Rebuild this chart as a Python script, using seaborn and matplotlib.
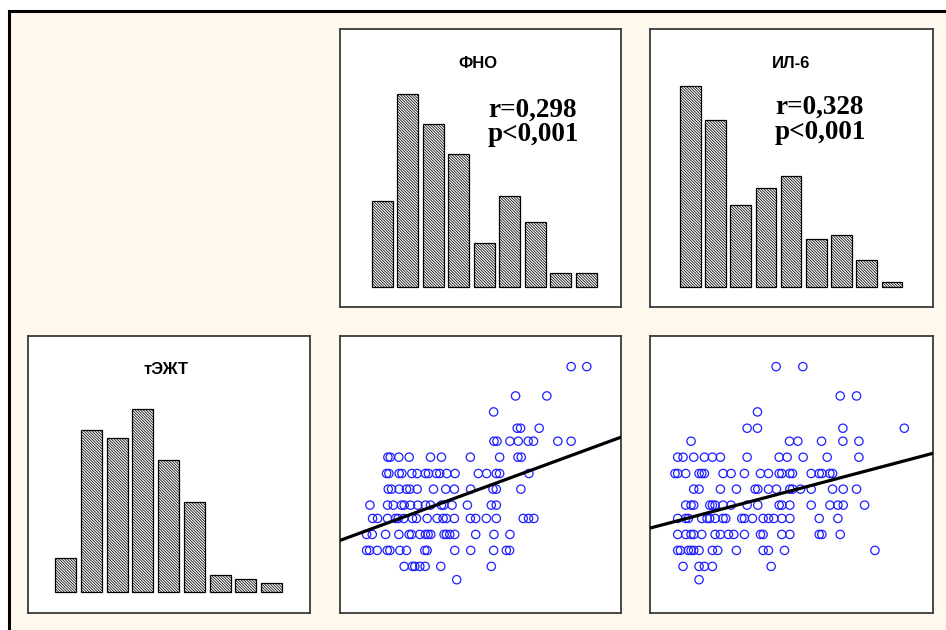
import matplotlib
matplotlib.use("Agg")
import matplotlib.pyplot as plt
from matplotlib.patches import Rectangle
import numpy as np
import pandas as pd
import seaborn as sns

sns.set_theme(style="white")
plt.rcParams["font.family"] = ["Liberation Sans", "DejaVu Sans"]
plt.rcParams["hatch.linewidth"] = 0.55

# ---- histogram frequencies (9 bins each) ----
fno_freq = [86.0, 192.7, 162.3, 132.7, 43.3, 90.3, 64.7, 13.3, 13.3]
il6_freq = [200.7, 167.0, 81.7, 98.4, 110.7, 47.4, 51.7, 26.7, 5.0]
tezt_freq = [34.6, 162.3, 154.0, 183.3, 132.3, 90.0, 17.3, 13.3, 9.0]

# ---- тЭЖТ levels (rows of the scatter plots) ----
tezt_levels = [69.0, 60.2, 55.4, 50.5, 46.6, 41.8, 36.9, 32.2, 27.4, 23.4, 18.6, 13.8, 9.0, 5.0]

# ФНО values observed at each тЭЖТ level
fno_rows = [
    [69.5, 74.2],
    [52.8, 62.2],
    [46.2],
    [53.3, 54.3, 59.9],
    [46.3, 47.2, 51.1, 53.6, 56.6, 58.2, 65.5, 69.5],
    [14.4, 15.1, 17.7, 20.8, 27.2, 30.5, 39.2, 48.0, 53.5, 54.5],
    [14.0, 14.7, 17.8, 18.6, 21.6, 23.2, 25.7, 26.6, 29.0, 30.0, 32.1, 34.6,
     41.6, 44.1, 47.0, 48.0, 56.8],
    [14.5, 15.5, 17.8, 20.0, 21.0, 23.2, 28.1, 31.8, 34.4, 39.3, 46.0, 47.0, 54.4],
    [9.0, 14.3, 16.0, 18.5, 19.3, 21.2, 23.4, 25.7, 27.2, 30.5, 31.2, 33.7,
     38.3, 45.5, 47.0],
    [9.8, 11.3, 14.3, 16.7, 17.5, 19.2, 21.8, 23.0, 26.2, 29.2, 31.0, 32.0,
     34.4, 39.2, 40.8, 44.0, 47.0, 55.1, 56.7, 58.3],
    [8.0, 9.7, 13.7, 17.7, 20.8, 21.5, 24.0, 25.7, 26.5, 27.3, 31.3, 32.0,
     33.0, 34.5, 40.8, 46.3, 51.1],
    [8.0, 8.9, 11.2, 14.2, 15.0, 18.0, 20.0, 25.5, 26.2, 34.5, 39.3, 46.2, 50.0, 51.0],
    [19.3, 21.8, 22.5, 24.0, 25.6, 30.3, 45.5],
    [35.1],
]

# ИЛ-6 values observed at each тЭЖТ level
il6_rows = [
    [37.8, 45.8],
    [57.0, 61.9],
    [32.2],
    [29.1, 32.2, 57.8, 76.2],
    [12.3, 41.8, 44.3, 51.4, 57.8, 62.6],
    [8.3, 9.9, 13.1, 16.3, 18.7, 21.1, 29.1, 38.7, 41.1, 45.9, 53.1, 62.6],
    [7.5, 8.3, 10.7, 14.7, 15.5, 16.3, 21.9, 24.3, 28.3, 33.1, 35.5, 38.7,
     39.5, 41.9, 42.7, 48.3, 50.7, 51.5, 53.9, 54.7],
    [13.1, 14.7, 21.1, 25.9, 31.5, 32.3, 35.5, 37.9, 41.9, 42.7, 45.1, 48.3,
     54.7, 57.9, 61.9],
    [10.7, 12.3, 13.1, 17.9, 18.7, 19.5, 21.9, 24.3, 29.1, 32.3, 38.7, 39.5,
     41.9, 48.3, 53.9, 56.3, 57.9, 64.3],
    [8.3, 10.7, 11.5, 15.5, 17.1, 17.9, 19.5, 21.9, 22.7, 27.5, 28.3, 30.7,
     33.9, 35.5, 37.1, 39.5, 41.9, 50.7, 56.3],
    [8.3, 10.7, 12.3, 13.1, 15.5, 19.5, 21.1, 23.5, 25.1, 28.3, 33.1, 33.9,
     39.5, 41.9, 50.7, 51.5, 57.0],
    [8.3, 9.1, 11.5, 12.3, 13.1, 14.7, 18.7, 20.3, 25.9, 33.9, 35.5, 40.3, 67.4],
    [9.9, 14.7, 16.3, 18.7, 36.3],
    [14.7],
]

# regression lines: (intercept, slope)
fno_fit = (16.8, 0.367)
il6_fit = (20.5, 0.265)

fno_stats = ["r=0,298", "p<0,001"]
il6_stats = ["r=0,328", "p<0,001"]

CREAM = "#FFF9ED"
W, H = 946, 630

fig = plt.figure(figsize=(9.46, 6.3), dpi=100, facecolor="white")
fig.patches.append(Rectangle((8.5 / W, -0.2), 1.5, (H - 10.5) / H + 0.2,
                             transform=fig.transFigure, facecolor=CREAM,
                             edgecolor="black", linewidth=2.2, zorder=-10))


def box(x0, y0, x1, y1):
    return [x0 / W, (H - y1) / H, (x1 - x0) / W, (y1 - y0) / H]


ax_fno_h = fig.add_axes(box(340, 29, 621, 307))
ax_il6_h = fig.add_axes(box(650, 29, 933, 307))
ax_tezt_h = fig.add_axes(box(28, 336, 310, 613))
ax_fno_s = fig.add_axes(box(340, 336, 621, 613))
ax_il6_s = fig.add_axes(box(650, 336, 933, 613))


def style(ax):
    ax.set_facecolor("white")
    ax.set_xticks([])
    ax.set_yticks([])
    ax.set_xlabel("")
    ax.set_ylabel("")
    for s in ax.spines.values():
        s.set_visible(True)
        s.set_color("#3a3a3a")
        s.set_linewidth(1.3)


def hist_panel(ax, freq, title, title_x, xlim, ylim):
    df = pd.DataFrame({"bin": np.arange(len(freq)), "freq": freq})
    sns.barplot(data=df, x="bin", y="freq", ax=ax, color="white",
                saturation=1, edgecolor="black", linewidth=0.9,
                hatch="\\" * 12, width=0.82)
    ax.set_xlim(*xlim)
    ax.set_ylim(*ylim)
    ax.text(title_x, 1 - 34 / 278, title, transform=ax.transAxes,
            ha="center", va="center", fontsize=12, fontweight="bold",
            color="black")
    style(ax)


def stats_text(ax, lines, x, y0, y1):
    for txt, yy in zip(lines, (y0, y1)):
        ax.text(x, yy, txt, transform=ax.transAxes, ha="left", va="center",
                fontsize=19.5, fontweight="bold", family="Liberation Serif",
                color="black")


def scatter_panel(ax, rows, fit, xlim):
    xs = [v for r in rows for v in r]
    ys = [lvl for r, lvl in zip(rows, tezt_levels) for _ in r]
    sns.scatterplot(x=xs, y=ys, ax=ax, marker="o", s=36,
                    facecolors="none", edgecolor="#1f1fff", linewidth=0.9,
                    zorder=3)
    lx = np.array(xlim)
    sns.lineplot(x=lx, y=fit[0] + fit[1] * lx, ax=ax, color="black",
                 linewidth=2.3, zorder=4)
    ax.set_xlim(*xlim)
    ax.set_ylim(-5.0, 78.2)
    style(ax)


hist_panel(ax_fno_h, fno_freq, "ФНО", 0.49, (-1.66, 9.36), (-20.3, 257.7))
stats_text(ax_fno_h, fno_stats, 0.527, 0.709, 0.619)
hist_panel(ax_il6_h, il6_freq, "ИЛ-6", 0.5, (-1.60, 9.63), (-20.3, 257.7))
stats_text(ax_il6_h, il6_stats, 0.442, 0.719, 0.629)
hist_panel(ax_tezt_h, tezt_freq, "тЭЖТ", 0.49, (-1.46, 9.49), (-20.7, 256.3))

scatter_panel(ax_fno_s, fno_rows, fno_fit, (0, 84.5))
scatter_panel(ax_il6_s, il6_rows, il6_fit, (0, 84.8))

fig.savefig("out.png", dpi=100, facecolor=fig.get_facecolor())
